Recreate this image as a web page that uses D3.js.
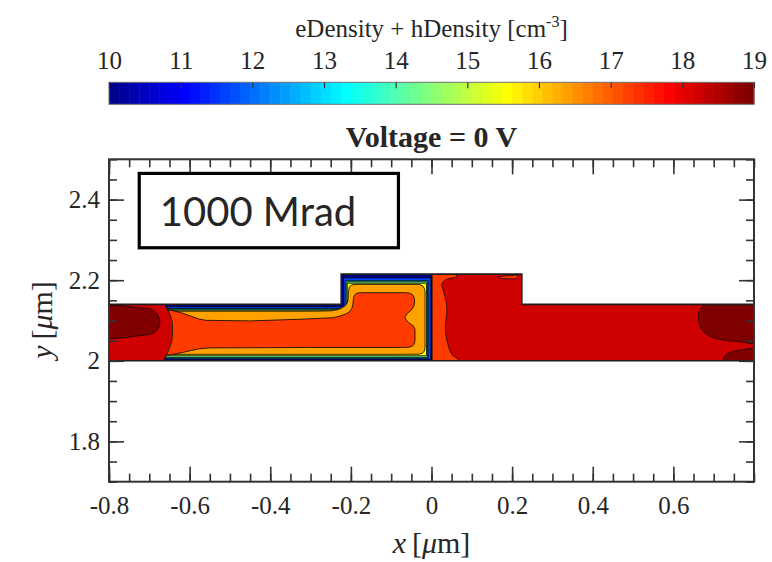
<!DOCTYPE html>
<html>
<head>
<meta charset="utf-8">
<script src="https://cdn.jsdelivr.net/npm/d3@7"></script>
<style>
  body { margin: 0; background: #fff; }
  text { font-family: "Liberation Serif", "DejaVu Serif", serif; fill: #262626; }
</style>
</head>
<body>
<svg id="chart" width="772" height="562"></svg>
<script>
// ---- colour bar (log10 of eDensity + hDensity, cm^-3) ----
const colorTicks = [10, 11, 12, 13, 14, 15, 16, 17, 18, 19];
const colorSteps = 64;

// ---- axes ----
const xTicks = [-0.8, -0.6, -0.4, -0.2, 0, 0.2, 0.4, 0.6];
const yTicks = [1.8, 2.0, 2.2, 2.4];

// ---- device cross-section (µm) ----
const device = [[-0.8, 2.0], [0.8, 2.0], [0.8, 2.14], [0.224, 2.14], [0.224, 2.215],
                [-0.224, 2.215], [-0.224, 2.14], [-0.8, 2.14]];
const deviceLevel = 18.3;

// boundary between the left contact and the channel well, top to bottom
const wellEdge = [[-0.662, 2.14], [-0.656, 2.13], [-0.648, 2.114], [-0.643, 2.096], [-0.642, 2.072],
                  [-0.644, 2.05], [-0.65, 2.032], [-0.657, 2.015], [-0.665, 2.0]];
const junctionX = 0.001;

// thin contour bands hugging the well surface: inset from top, raised top, step wall, junction, bottom (µm)
const wellBands = [
  { level: 10.0, top: 0,      raised: 0,     wall: 0,      right: 0,      bottom: 0 },
  { level: 11.7, top: 0.0055, raised: 0.009, wall: 0.006,  right: 0.0025, bottom: 0.004 },
  { level: 13.2, top: 0.010,  raised: 0.016, wall: 0.010,  right: 0.0095, bottom: 0.0065 },
  { level: 14.4, top: 0.012,  raised: 0.019, wall: 0.0125, right: 0.011,  bottom: 0.0085 },
  { level: 15.6, top: 0.0145, raised: 0.0225, wall: 0.015, right: 0.0135, bottom: 0.0125 }
];

// larger contour regions inside the well
const wellOrange = { level: 16.45, points: [
  [-0.72, 2.016], [-0.1, 2.016], [-0.03, 2.0165], [-0.022, 2.019], [-0.018, 2.024], [-0.016, 2.032],
  [-0.016, 2.172], [-0.018, 2.180], [-0.022, 2.186], [-0.03, 2.1895], [-0.19, 2.1895], [-0.199, 2.188],
  [-0.204, 2.183], [-0.206, 2.172], [-0.207, 2.152], [-0.209, 2.144], [-0.214, 2.137], [-0.221, 2.132],
  [-0.232, 2.127], [-0.25, 2.124], [-0.3, 2.123], [-0.72, 2.123]] };

const wellCore = { level: 17.35, points: [
  [-0.72, 2.010], [-0.645, 2.015], [-0.616, 2.021], [-0.595, 2.026], [-0.575, 2.030], [-0.55, 2.032],
  [-0.3, 2.033], [-0.1, 2.033], [-0.058, 2.0335], [-0.048, 2.036], [-0.043, 2.041], [-0.041, 2.05],
  [-0.041, 2.078], [-0.044, 2.085], [-0.05, 2.09], [-0.057, 2.095], [-0.063, 2.101], [-0.066, 2.108],
  [-0.063, 2.114], [-0.056, 2.121], [-0.048, 2.128], [-0.043, 2.137], [-0.042, 2.148], [-0.043, 2.157],
  [-0.047, 2.164], [-0.054, 2.168], [-0.065, 2.169], [-0.178, 2.169], [-0.187, 2.167], [-0.192, 2.161],
  [-0.194, 2.152], [-0.195, 2.14], [-0.198, 2.129], [-0.204, 2.121], [-0.213, 2.116], [-0.227, 2.111],
  [-0.244, 2.107], [-0.33, 2.103], [-0.45, 2.099], [-0.56, 2.1005], [-0.578, 2.104], [-0.6, 2.112],
  [-0.62, 2.119], [-0.644, 2.125], [-0.72, 2.132]] };

// regions in the contacts and the right-hand side
const outerRegions = [
  { level: 19, points: [[-0.82, 2.1305], [-0.72, 2.131], [-0.695, 2.128], [-0.681, 2.116], [-0.674, 2.099],
                        [-0.678, 2.08], [-0.692, 2.068], [-0.72, 2.063], [-0.82, 2.062]] },
  { level: 19, points: [[0.68, 2.16], [0.676, 2.14], [0.665, 2.125], [0.662, 2.105], [0.668, 2.082],
                        [0.685, 2.064], [0.72, 2.052], [0.76, 2.048], [0.82, 2.047], [0.82, 2.16]] },
  { level: 19, points: [[0.715, 1.99], [0.723, 2.002], [0.729, 2.014], [0.745, 2.022], [0.775, 2.028],
                        [0.82, 2.031], [0.82, 1.99]] },
  { level: 17.35, points: [[0.165, 2.2075], [0.19, 2.211], [0.216, 2.211], [0.21, 2.205], [0.19, 2.2035],
                           [0.172, 2.205]] },
  { level: 17.35, points: [[-0.01, 1.99], [-0.01, 2.225], [0.045, 2.225], [0.062, 2.2095], [0.035, 2.201],
                           [0.026, 2.19], [0.03, 2.172], [0.037, 2.142], [0.038, 2.117], [0.034, 2.084],
                           [0.037, 2.057], [0.044, 2.030], [0.052, 2.014], [0.066, 2.004], [0.075, 1.99]] }
];

// ---------------------------------------------------------------
const svg = d3.select("#chart");
const plot = { left: 109, right: 754, top: 159.3, bottom: 481.7 };
const x = d3.scaleLinear().domain([-0.8, 0.8]).range([plot.left, plot.right]);
const y = d3.scaleLinear().domain([1.7, 2.5]).range([plot.bottom, plot.top]);

// MATLAB-style jet colour map
function jet(t) {
  const c = v => Math.max(0, Math.min(1, v));
  const r = c(Math.min(4 * t - 1.5, -4 * t + 4.5));
  const g = c(Math.min(4 * t - 0.5, -4 * t + 3.5));
  const b = c(Math.min(4 * t + 0.5, -4 * t + 2.5));
  return d3.rgb(r * 255, g * 255, b * 255).formatHex();
}
const levelT = d3.scaleLinear().domain([10, 19]).range([0, 1]).clamp(true);
const colorOf = v => jet(levelT(v));

const polyLinear = d3.line().x(d => x(d[0])).y(d => y(d[1])).curve(d3.curveLinearClosed);
const polySmooth = d3.line().x(d => x(d[0])).y(d => y(d[1])).curve(d3.curveCatmullRomClosed.alpha(0.5));
const openLine = d3.line().x(d => x(d[0])).y(d => y(d[1]));

// outline of a band inset from the well surface
function bandOutline(b) {
  const xs = 0.224, y0 = 2.0, y1 = 2.14, y2 = 2.215;
  return [[-0.72, y0 + b.bottom], [junctionX - b.right, y0 + b.bottom], [junctionX - b.right, y2 - b.raised],
          [-xs + b.wall, y2 - b.raised], [-xs + b.wall, y1 - b.top], [-0.72, y1 - b.top]];
}

const defs = svg.append("defs");
defs.append("clipPath").attr("id", "clip-device")
  .append("path").attr("d", polyLinear(device));
const wellShape = [[-0.665, 2.0], [junctionX, 2.0], [junctionX, 2.215], [-0.224, 2.215], [-0.224, 2.14]]
  .concat(wellEdge);
defs.append("clipPath").attr("id", "clip-well")
  .append("path").attr("d", polyLinear(wellShape));

// ---- filled contours ----
const field = svg.append("g").attr("clip-path", "url(#clip-device)");
field.append("path").attr("d", polyLinear(device)).attr("fill", colorOf(deviceLevel));

field.selectAll("path.outer").data(outerRegions).join("path").attr("class", "outer")
  .attr("d", d => polySmooth(d.points))
  .attr("fill", d => colorOf(d.level))
  .attr("stroke", "#000").attr("stroke-width", 0.7).attr("stroke-linejoin", "round");

const well = field.append("g").attr("clip-path", "url(#clip-well)");
well.selectAll("path.band").data(wellBands).join("path").attr("class", "band")
  .attr("d", d => polyLinear(bandOutline(d)))
  .attr("fill", d => colorOf(d.level))
  .attr("stroke", "#000").attr("stroke-width", 0.8);
well.selectAll("path.core").data([wellOrange, wellCore]).join("path").attr("class", "core")
  .attr("d", d => polyLinear(d.points))
  .attr("fill", d => colorOf(d.level))
  .attr("stroke", "#000").attr("stroke-width", 0.8).attr("stroke-linejoin", "round");

field.append("path").attr("d", openLine(wellEdge))
  .attr("fill", "none").attr("stroke", "#000").attr("stroke-width", 0.8);
field.append("path").attr("d", openLine([[junctionX, 2.0], [junctionX, 2.215]]))
  .attr("fill", "none").attr("stroke", "#000").attr("stroke-width", 1.2);

svg.append("path").attr("d", polyLinear(device))
  .attr("fill", "none").attr("stroke", "#1e1e1e").attr("stroke-width", 1.6);

// ---- axes (ticks inside, box on) ----
const xMinor = d3.range(-0.8, 0.8001, 0.05);
const yMinor = d3.range(1.7, 2.5001, 0.05);
const fmt = d => (Math.abs(d) < 1e-9 ? "0" : String(+d.toFixed(2)));

function styleAxis(g, sw) {
  g.select(".domain").remove();
  g.selectAll(".tick line").attr("stroke", "#333").attr("stroke-width", sw);
  g.selectAll(".tick text").style("font-family", "'Liberation Serif', serif")
    .style("font-size", "25px").attr("fill", "#262626");
}
const axes = svg.append("g");
axes.append("g").attr("transform", `translate(0,${plot.bottom})`)
  .call(d3.axisBottom(x).tickValues(xMinor).tickSize(-8).tickFormat(""))
  .call(g => styleAxis(g, 1.6));
axes.append("g").attr("transform", `translate(0,${plot.bottom})`)
  .call(d3.axisBottom(x).tickValues(xTicks).tickSize(-15).tickPadding(15).tickFormat(fmt))
  .call(g => styleAxis(g, 1.6));
axes.append("g").attr("transform", `translate(0,${plot.top})`)
  .call(d3.axisTop(x).tickValues(xMinor).tickSize(-8).tickFormat(""))
  .call(g => styleAxis(g, 1.6));
axes.append("g").attr("transform", `translate(0,${plot.top})`)
  .call(d3.axisTop(x).tickValues(xTicks).tickSize(-15).tickFormat(""))
  .call(g => styleAxis(g, 1.6));
axes.append("g").attr("transform", `translate(${plot.left},0)`)
  .call(d3.axisLeft(y).tickValues(yMinor).tickSize(-8).tickFormat(""))
  .call(g => styleAxis(g, 1.6));
axes.append("g").attr("transform", `translate(${plot.left},0)`)
  .call(d3.axisLeft(y).tickValues(yTicks).tickSize(-15).tickPadding(9).tickFormat(fmt))
  .call(g => styleAxis(g, 1.6));
axes.append("g").attr("transform", `translate(${plot.right},0)`)
  .call(d3.axisRight(y).tickValues(yMinor).tickSize(-8).tickFormat(""))
  .call(g => styleAxis(g, 1.6));
axes.append("g").attr("transform", `translate(${plot.right},0)`)
  .call(d3.axisRight(y).tickValues(yTicks).tickSize(-15).tickFormat(""))
  .call(g => styleAxis(g, 1.6));
svg.append("rect").attr("x", plot.left).attr("y", plot.top)
  .attr("width", plot.right - plot.left).attr("height", plot.bottom - plot.top)
  .attr("fill", "none").attr("stroke", "#333").attr("stroke-width", 2);

// ---- annotation box ----
svg.append("rect").attr("x", x(-0.725)).attr("y", y(2.465))
  .attr("width", x(-0.082) - x(-0.725)).attr("height", y(2.2805) - y(2.465))
  .attr("fill", "#fff").attr("stroke", "#000").attr("stroke-width", 3.2);
svg.append("text").attr("x", x(-0.674)).attr("y", y(2.334))
  .style("font-family", "Lato, 'Open Sans', sans-serif").style("font-size", "40px").attr("fill", "#000")
  .text("1000 Mrad");

// ---- colour bar ----
const cb = { top: 82.3, height: 22 };
const cbX = d3.scaleLinear().domain([10, 19]).range([plot.left, plot.right]);
const steps = d3.range(colorSteps);
svg.append("g").selectAll("rect").data(steps).join("rect")
  .attr("x", i => cbX(10 + 9 * i / colorSteps))
  .attr("width", i => cbX(10 + 9 * (i + 1) / colorSteps) - cbX(10 + 9 * i / colorSteps) + 0.5)
  .attr("y", cb.top).attr("height", cb.height)
  .attr("fill", i => jet((i + 1) / colorSteps));
svg.append("rect").attr("x", plot.left).attr("y", cb.top)
  .attr("width", plot.right - plot.left).attr("height", cb.height)
  .attr("fill", "none").attr("stroke", "#707070").attr("stroke-width", 1);
svg.append("g").attr("transform", `translate(0,${cb.top})`)
  .call(d3.axisTop(cbX).tickValues(colorTicks).tickSize(-6).tickPadding(13).tickFormat(d3.format("d")))
  .call(g => styleAxis(g, 1.2));

// ---- titles and labels ----
const cbLabel = svg.append("text").attr("x", 431.5).attr("y", 37)
  .attr("text-anchor", "middle").style("font-size", "25px");
cbLabel.append("tspan").text("eDensity + hDensity [cm");
cbLabel.append("tspan").attr("dy", -10).style("font-size", "16px").text("-3");
cbLabel.append("tspan").attr("dy", 10).text("]");

svg.append("text").attr("x", 431.5).attr("y", 147).attr("text-anchor", "middle")
  .style("font-size", "30px").style("font-weight", "bold").attr("fill", "#000")
  .text("Voltage = 0 V");

const xl = svg.append("text").attr("x", 431.5).attr("y", 553).attr("text-anchor", "middle")
  .style("font-size", "30px");
xl.append("tspan").style("font-style", "italic").text("x");
xl.append("tspan").text("\u2009[");
xl.append("tspan").style("font-style", "italic").text("\u03bc");
xl.append("tspan").text("m]");

const yl = svg.append("text").attr("transform", "translate(52,320) rotate(-90)")
  .attr("text-anchor", "middle").style("font-size", "30px");
yl.append("tspan").style("font-style", "italic").text("y");
yl.append("tspan").text("\u2009[");
yl.append("tspan").style("font-style", "italic").text("\u03bc");
yl.append("tspan").text("m]");
</script>
</body>
</html>
